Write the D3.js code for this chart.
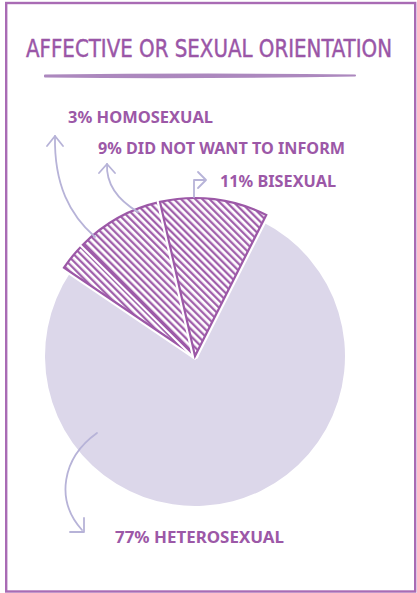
<!DOCTYPE html>
<html>
<head>
<meta charset="utf-8">
<script src="https://cdn.jsdelivr.net/npm/d3@7"></script>
<style>
  html, body { margin: 0; padding: 0; background: #ffffff; }
  svg { display: block; }
</style>
</head>
<body>
<svg id="chart" width="417" height="593"></svg>
<script>
// Affective or sexual orientation shares (percent)
const categories = ["Heterosexual", "Homosexual", "Did not want to inform", "Bisexual"];
const shares = [77, 3, 9, 11];
const title = "AFFECTIVE OR SEXUAL ORIENTATION";

const purple = "#9c58a7";
const frameColor = "#a96bb4";
const arrowColor = "#b7b3d8";
const lilac = "#dcd7ea";

const svg = d3.select("#chart");

// outer frame
svg.append("rect")
  .attr("x", 6.2).attr("y", 3).attr("width", 409).attr("height", 588.5)
  .attr("fill", "none").attr("stroke", frameColor).attr("stroke-width", 2.4);

// title (tall, narrow lettering) and brush underline
svg.append("text")
  .attr("transform", "translate(209,57) scale(1,1.25)")
  .attr("text-anchor", "middle")
  .attr("textLength", 366).attr("lengthAdjust", "spacingAndGlyphs")
  .attr("font-family", "'DejaVu Sans Condensed', 'DejaVu Sans', sans-serif")
  .attr("font-size", 20)
  .attr("fill", "#9a56a7")
  .attr("stroke", "#9a56a7").attr("stroke-width", 0.35)
  .text(title);

svg.append("path")
  .attr("d", "M45,75.6 Q200,73.6 355,75.4 Q200,78.4 45,76.6 Z")
  .attr("fill", "#a47cb8").attr("stroke", "#a47cb8").attr("stroke-width", 2)
  .attr("stroke-linejoin", "round").attr("opacity", 0.9);

// hatch pattern for the minority slices
const defs = svg.append("defs");
const pat = defs.append("pattern")
  .attr("id", "hatch")
  .attr("patternUnits", "userSpaceOnUse")
  .attr("width", 5).attr("height", 10)
  .attr("patternTransform", "rotate(-45)");
pat.append("rect").attr("width", 5).attr("height", 10).attr("fill", "#ffffff");
pat.append("line")
  .attr("x1", 1.2).attr("y1", 0).attr("x2", 1.2).attr("y2", 10)
  .attr("stroke", purple).attr("stroke-width", 2.2);

// pie geometry
const cx = 195, cy = 356;
const rMain = 150, rSmall = 158;
const minorTotal = d3.sum(shares.slice(1)) / d3.sum(shares) * 2 * Math.PI;
const minorMid = -14.6 * Math.PI / 180;
const start = minorMid + minorTotal / 2;

const pie = d3.pie().sort(null).value(d => d)
  .startAngle(start).endAngle(start + 2 * Math.PI);
const arcs = pie(shares);

const g = svg.append("g").attr("transform", `translate(${cx},${cy})`);

const arcMain = d3.arc().innerRadius(0).outerRadius(rMain);
const arcSmall = d3.arc().innerRadius(0).outerRadius(rSmall);

// large lilac slice
g.append("path")
  .attr("d", arcMain(arcs[0]))
  .attr("fill", lilac);

// hatched slices: each gets a white halo so neighbours stay separated
const minor = g.selectAll("g.minor").data(arcs.slice(1)).join("g").attr("class", "minor");
minor.append("path")
  .attr("d", arcSmall)
  .attr("fill", "#ffffff").attr("stroke", "#ffffff")
  .attr("stroke-width", 6.5).attr("stroke-linejoin", "round");
minor.append("path")
  .attr("d", arcSmall)
  .attr("fill", "url(#hatch)").attr("stroke", purple)
  .attr("stroke-width", 2.2).attr("stroke-linejoin", "miter");

// annotation arrows
const arrows = svg.append("g")
  .attr("fill", "none").attr("stroke", arrowColor)
  .attr("stroke-width", 1.8).attr("stroke-linecap", "round").attr("stroke-linejoin", "round");

// homosexual
arrows.append("path").attr("d", "M95,237 C70,215 54,185 55,136");
arrows.append("path").attr("d", "M47,146 L55,136 L63,146");
// did not want to inform
arrows.append("path").attr("d", "M138,212 C118,200 106,185 107,164");
arrows.append("path").attr("d", "M99,173 L107,164 L115,173");
// bisexual
arrows.append("path").attr("d", "M194,197 L194,180 L205,180");
arrows.append("path").attr("d", "M198,172 L206,180 L198,188");
// heterosexual
arrows.append("path").attr("d", "M97,433 C62,458 55,500 82,530");
arrows.append("path").attr("d", "M70,532 L84,532 L84,518");

// category labels
const labelPos = [
  { x: 115, y: 543, w: 169 },
  { x: 68, y: 123, w: 145 },
  { x: 98, y: 154, w: 247 },
  { x: 220, y: 187, w: 116 }
];
svg.selectAll("text.lbl").data(categories).join("text")
  .attr("class", "lbl")
  .attr("x", (d, i) => labelPos[i].x)
  .attr("y", (d, i) => labelPos[i].y)
  .attr("textLength", (d, i) => labelPos[i].w)
  .attr("lengthAdjust", "spacingAndGlyphs")
  .attr("font-family", "'Noto Sans', 'Open Sans', sans-serif")
  .attr("font-weight", 700)
  .attr("font-size", 16)
  .attr("fill", purple)
  .text((d, i) => `${shares[i]}% ${d.toUpperCase()}`);
</script>
</body>
</html>
